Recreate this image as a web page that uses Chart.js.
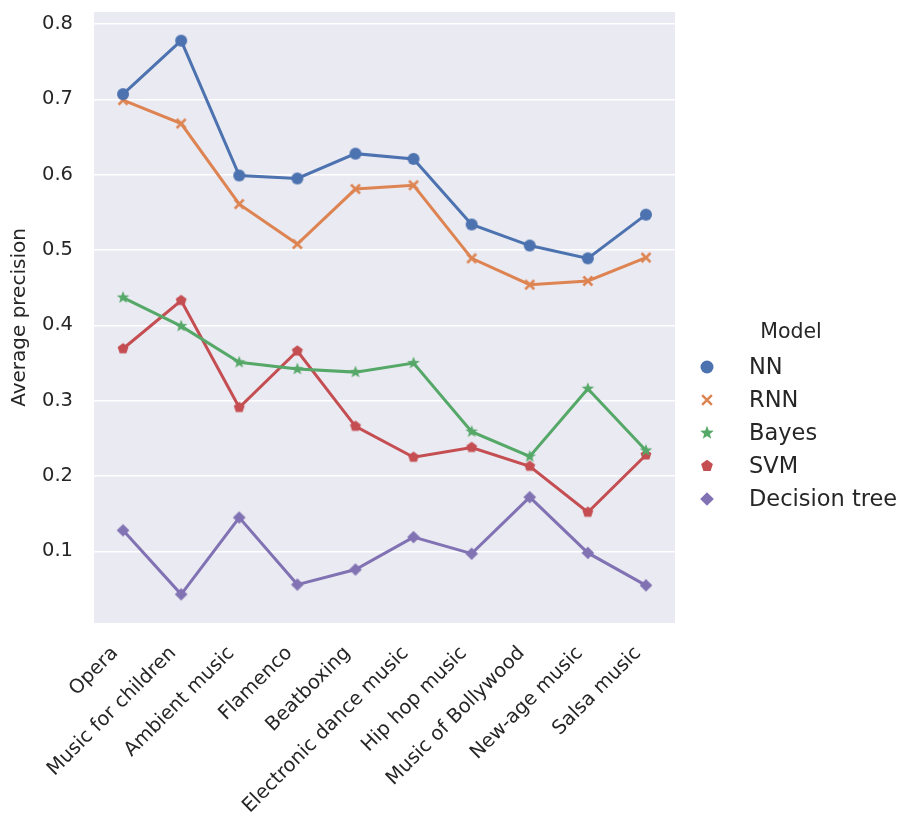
<!DOCTYPE html>
<html>
<head>
<meta charset="utf-8">
<script src="https://cdn.jsdelivr.net/npm/chart.js@4/dist/chart.umd.min.js"></script>
<style>
  html, body { margin: 0; padding: 0; background: #fff; }
  #wrap { width: 900px; height: 823px; position: relative; }
</style>
</head>
<body>
<div id="wrap"><canvas id="chart"></canvas></div>
<script>
// ── Data ───────────────────────────────────────────────────
const genres = ['Opera', 'Music for children', 'Ambient music', 'Flamenco', 'Beatboxing',
  'Electronic dance music', 'Hip hop music', 'Music of Bollywood', 'New-age music', 'Salsa music'];
const nn       = [0.707, 0.778, 0.599, 0.595, 0.628, 0.621, 0.534, 0.506, 0.489, 0.547];
const rnn      = [0.699, 0.668, 0.561, 0.508, 0.581, 0.586, 0.489, 0.454, 0.459, 0.490];
const bayes    = [0.437, 0.399, 0.351, 0.342, 0.338, 0.350, 0.259, 0.226, 0.316, 0.234];
const svm      = [0.369, 0.433, 0.291, 0.366, 0.266, 0.225, 0.238, 0.213, 0.152, 0.228];
const decTree  = [0.128, 0.043, 0.145, 0.056, 0.076, 0.119, 0.097, 0.172, 0.098, 0.055];
const yTicks   = [0.1, 0.2, 0.3, 0.4, 0.5, 0.6, 0.7, 0.8];

const FONT = "'DejaVu Sans', sans-serif";
const TEXT = '#262626';

const series = [
  { label: 'NN',            data: nn,      color: '#4C72B0', shape: 'circle' },
  { label: 'RNN',           data: rnn,     color: '#DD8452', shape: 'x' },
  { label: 'Bayes',         data: bayes,   color: '#55A868', shape: 'star' },
  { label: 'SVM',           data: svm,     color: '#C44E52', shape: 'pentagon' },
  { label: 'Decision tree', data: decTree, color: '#8172B3', shape: 'diamond' },
];

// ── Marker drawing ─────────────────────────────────────────
function drawMarker(ctx, shape, x, y, r, color) {
  ctx.save();
  ctx.fillStyle = color;
  ctx.strokeStyle = color;
  ctx.beginPath();
  if (shape === 'circle') {
    ctx.arc(x, y, r, 0, Math.PI * 2);
    ctx.fill();
  } else if (shape === 'x') {
    const d = r * 0.75;
    ctx.lineWidth = 2.5;
    ctx.moveTo(x - d, y - d); ctx.lineTo(x + d, y + d);
    ctx.moveTo(x - d, y + d); ctx.lineTo(x + d, y - d);
    ctx.stroke();
  } else if (shape === 'star' || shape === 'pentagon') {
    const pts = shape === 'star' ? 10 : 5;
    const rr = shape === 'star' ? r * 1.1 : r * 0.95;
    for (let i = 0; i < pts; i++) {
      const a = -Math.PI / 2 + i * 2 * Math.PI / pts;
      const rad = (shape === 'star' && i % 2) ? rr * 0.42 : rr;
      const px = x + rad * Math.cos(a), py = y + rad * Math.sin(a);
      i ? ctx.lineTo(px, py) : ctx.moveTo(px, py);
    }
    ctx.closePath();
    ctx.fill();
  } else if (shape === 'diamond') {
    const d = r * 1.05;
    ctx.moveTo(x, y - d); ctx.lineTo(x + d, y); ctx.lineTo(x, y + d); ctx.lineTo(x - d, y);
    ctx.closePath();
    ctx.fill();
  }
  ctx.restore();
}

function markerCanvas(shape, color, r) {
  const c = document.createElement('canvas');
  const s = Math.ceil(r * 2 + 6);
  c.width = s; c.height = s;
  drawMarker(c.getContext('2d'), shape, s / 2, s / 2, r, color);
  return c;
}

// ── Plugins ────────────────────────────────────────────────
const plotBg = {
  id: 'plotBg',
  beforeDraw(chart) {
    const { ctx, chartArea: a } = chart;
    ctx.save();
    ctx.fillStyle = '#EAEAF2';
    ctx.fillRect(a.left, a.top, a.right - a.left, a.bottom - a.top);
    ctx.restore();
  }
};

const sideLegend = {
  id: 'sideLegend',
  afterDraw(chart) {
    const ctx = chart.ctx;
    ctx.save();
    ctx.fillStyle = TEXT;
    ctx.textBaseline = 'middle';
    ctx.textAlign = 'center';
    ctx.font = `20.5px ${FONT}`;
    ctx.fillText('Model', 791, 333);
    ctx.textAlign = 'left';
    ctx.font = `22.5px ${FONT}`;
    series.forEach((s, i) => {
      const y = 367 + i * 33;
      drawMarker(ctx, s.shape, 707, y, 6.5, s.color);
      ctx.fillStyle = TEXT;
      ctx.fillText(s.label, 749, y + 1);
    });
    ctx.restore();
  }
};

// ── Chart ──────────────────────────────────────────────────
new Chart(document.getElementById('chart'), {
  type: 'line',
  data: {
    labels: genres,
    datasets: series.map(s => ({
      label: s.label,
      data: s.data,
      borderColor: s.color,
      backgroundColor: s.color,
      borderWidth: 3,
      tension: 0,
      pointStyle: markerCanvas(s.shape, s.color, 6),
      pointRadius: 6,
    }))
  },
  options: {
    responsive: true,
    maintainAspectRatio: false,
    animation: false,
    layout: { padding: { top: 12, right: 225, left: 0, bottom: 0 } },
    plugins: {
      legend: { display: false },
      tooltip: { enabled: false }
    },
    scales: {
      x: {
        offset: true,
        grid: { display: false },
        border: { display: false },
        ticks: {
          color: TEXT,
          font: { family: FONT, size: 19.5 },
          maxRotation: 45,
          minRotation: 45,
          autoSkip: false,
          padding: 11,
          labelOffset: -8
        },
        afterFit: scale => { scale.height = 200; }
      },
      y: {
        min: 0.005,
        max: 0.816,
        grid: { color: '#ffffff', lineWidth: 1.6, drawTicks: false },
        border: { display: false },
        ticks: {
          color: TEXT,
          font: { family: FONT, size: 19.5 },
          padding: 21,
          callback: v => v.toFixed(1)
        },
        afterBuildTicks: scale => { scale.ticks = yTicks.map(v => ({ value: v })); },
        title: {
          display: true,
          text: 'Average precision',
          color: TEXT,
          font: { family: FONT, size: 20 },
          padding: { top: 8, bottom: 0 }
        },
        afterFit: scale => {
          scale.width = 94;
          scale.paddingTop = 0;
          scale.paddingBottom = 0;
        }
      }
    }
  },
  plugins: [plotBg, sideLegend]
});
</script>
</body>
</html>
